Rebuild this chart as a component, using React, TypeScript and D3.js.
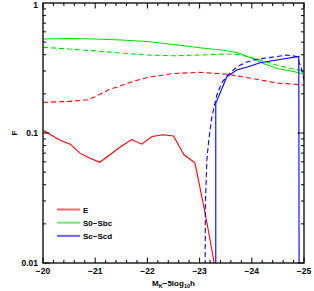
import React, { useEffect, useRef } from "react";
import * as d3 from "d3";

// E (red)
const magE = [-20, -20.33, -20.52, -20.71, -20.9, -21.09, -21.48, -21.7, -21.89, -22.09, -22.3, -22.5, -22.7, -22.91, -23.1, -23.28];
const fE = [0.105, 0.088, 0.082, 0.07, 0.064, 0.0595, 0.078, 0.089, 0.082, 0.094, 0.097, 0.095, 0.068, 0.059, 0.025, 0.01];
const magEd = [-20, -20.5, -20.85, -21, -21.25, -21.5, -21.75, -22, -22.5, -23, -23.5, -24, -24.5, -25];
const fEd = [0.172, 0.175, 0.18, 0.19, 0.214, 0.232, 0.251, 0.267, 0.287, 0.293, 0.284, 0.263, 0.242, 0.234];

// S0-Sbc (green)
const magS0 = [-20, -20.5, -21, -21.5, -22, -22.5, -23, -23.5, -23.75, -24, -24.25, -24.5, -24.75, -25];
const fS0 = [0.528, 0.533, 0.528, 0.519, 0.506, 0.48, 0.453, 0.431, 0.412, 0.376, 0.34, 0.312, 0.3, 0.284];
const fS0d = [0.456, 0.443, 0.428, 0.412, 0.398, 0.393, 0.398, 0.405, 0.401, 0.381, 0.355, 0.331, 0.313, 0.3];

// Sc-Scd (blue)
const magSc = [-23.31, -23.31, -23.52, -23.71, -23.9, -24.16, -24.48, -24.9, -24.91];
const fSc = [0.001, 0.169, 0.27, 0.305, 0.32, 0.347, 0.364, 0.388, 0.001];
const magScd = [-23.1, -23.11, -23.14, -23.17, -23.23, -23.33, -23.42, -23.52, -23.71, -23.9, -24.09, -24.41, -24.67, -24.86, -24.96, -25.0, -25.05];
const fScd = [0.001, 0.028, 0.062, 0.084, 0.13, 0.196, 0.242, 0.274, 0.322, 0.352, 0.369, 0.384, 0.398, 0.388, 0.305, 0.256, 0.2];

const legendNames = ["E", "S0\u2212Sbc", "Sc\u2212Scd"];
const colors = ["#ff0000", "#00e000", "#0000ff"];
const xTickLabels = [-20, -21, -22, -23, -24, -25];
const yTickLabels = [1, 0.1, 0.01];

const App = () => {
  const svgRef = useRef(null);

  useEffect(() => {
    const width = 314;
    const height = 291;
    const margin = { top: 3, right: 10, bottom: 28, left: 43 };
    const font = "'Liberation Sans', Arial, sans-serif";

    const svg = d3.select(svgRef.current).attr("width", width).attr("height", height);
    svg.selectAll("*").remove();

    const x = d3.scaleLinear().domain([-20, -25]).range([margin.left, width - margin.right]);
    const y = d3.scaleLog().domain([0.01, 1]).range([height - margin.bottom, margin.top]);

    svg
      .append("defs")
      .append("clipPath")
      .attr("id", "plotclip")
      .append("rect")
      .attr("x", margin.left)
      .attr("y", margin.top)
      .attr("width", width - margin.left - margin.right)
      .attr("height", height - margin.top - margin.bottom);

    const line = d3
      .line()
      .x((d) => x(d[0]))
      .y((d) => y(d[1]));

    const series = [
      { m: magE, f: fE, c: colors[0], dash: null },
      { m: magEd, f: fEd, c: colors[0], dash: "5,3" },
      { m: magS0, f: fS0, c: colors[1], dash: null },
      { m: magS0, f: fS0d, c: colors[1], dash: "5,3" },
      { m: magSc, f: fSc, c: colors[2], dash: null },
      { m: magScd, f: fScd, c: colors[2], dash: "5,3" },
    ];

    const g = svg.append("g").attr("clip-path", "url(#plotclip)");
    series.forEach((s) => {
      g.append("path")
        .datum(s.m.map((m, i) => [m, s.f[i]]))
        .attr("d", line)
        .attr("fill", "none")
        .attr("stroke", s.c)
        .attr("stroke-width", 1.1)
        .attr("stroke-dasharray", s.dash);
    });

    // frame
    const x0 = margin.left;
    const x1 = width - margin.right;
    const y0 = margin.top;
    const y1 = height - margin.bottom;
    svg
      .append("rect")
      .attr("x", x0)
      .attr("y", y0)
      .attr("width", x1 - x0)
      .attr("height", y1 - y0)
      .attr("fill", "none")
      .attr("stroke", "#000")
      .attr("stroke-width", 1.3);

    // x ticks
    const ticks = svg.append("g").attr("stroke", "#000").attr("stroke-width", 1);
    d3.range(0, 26).forEach((i) => {
      const v = -20 - i * 0.2;
      const major = i % 5 === 0;
      const len = major ? 5.5 : 3;
      ticks.append("line").attr("x1", x(v)).attr("x2", x(v)).attr("y1", y1).attr("y2", y1 - len);
      ticks.append("line").attr("x1", x(v)).attr("x2", x(v)).attr("y1", y0).attr("y2", y0 + len);
    });

    // y ticks
    [0.01, 0.1].forEach((dec) => {
      d3.range(1, 10).forEach((k) => {
        const v = dec * k;
        const major = k === 1;
        const len = major ? 6.5 : 3;
        ticks.append("line").attr("x1", x0).attr("x2", x0 + len).attr("y1", y(v)).attr("y2", y(v));
        ticks.append("line").attr("x1", x1).attr("x2", x1 - len).attr("y1", y(v)).attr("y2", y(v));
      });
    });

    // tick labels
    xTickLabels.forEach((v) => {
      svg
        .append("text")
        .attr("x", x(v))
        .attr("y", y1 + 11)
        .attr("text-anchor", "middle")
        .attr("font-family", font)
        .attr("font-size", "8.5px")
        .attr("font-weight", "bold")
        .text("\u2212" + Math.abs(v));
    });
    yTickLabels.forEach((v) => {
      svg
        .append("text")
        .attr("x", x0 - 5)
        .attr("y", Math.max(y(v) + 3, 7.5))
        .attr("text-anchor", "end")
        .attr("font-family", font)
        .attr("font-size", "8.5px")
        .attr("font-weight", "bold")
        .text(String(v));
    });

    // axis titles
    const xt = svg
      .append("text")
      .attr("x", (x0 + x1) / 2)
      .attr("y", height - 5)
      .attr("text-anchor", "middle")
      .attr("font-family", font)
      .attr("font-size", "8px")
      .attr("font-weight", "bold");
    xt.append("tspan").text("M");
    xt.append("tspan").attr("font-size", "5.5px").attr("dy", 2).text("K");
    xt.append("tspan").attr("dy", -2).text("\u22125log");
    xt.append("tspan").attr("font-size", "5.5px").attr("dy", 2).text("10");
    xt.append("tspan").attr("dy", -2).text("h");

    svg
      .append("text")
      .attr("transform", `translate(17,${y(0.1)}) rotate(-90)`)
      .attr("text-anchor", "middle")
      .attr("font-family", font)
      .attr("font-size", "8px")
      .attr("font-weight", "bold")
      .text("F");

    // legend
    legendNames.forEach((name, i) => {
      const ly = 209.5 + i * 13.2;
      svg
        .append("line")
        .attr("x1", 57)
        .attr("x2", 80)
        .attr("y1", ly)
        .attr("y2", ly)
        .attr("stroke", colors[i])
        .attr("stroke-opacity", 0.6)
        .attr("stroke-width", 2);
      svg
        .append("text")
        .attr("x", 83)
        .attr("y", ly + 3)
        .attr("font-family", font)
        .attr("font-size", "8px")
        .attr("font-weight", "bold")
        .text(name);
    });
  }, []);

  return <svg ref={svgRef} style={{ position: "absolute", left: 0, top: 0 }}></svg>;
};

export default App;
